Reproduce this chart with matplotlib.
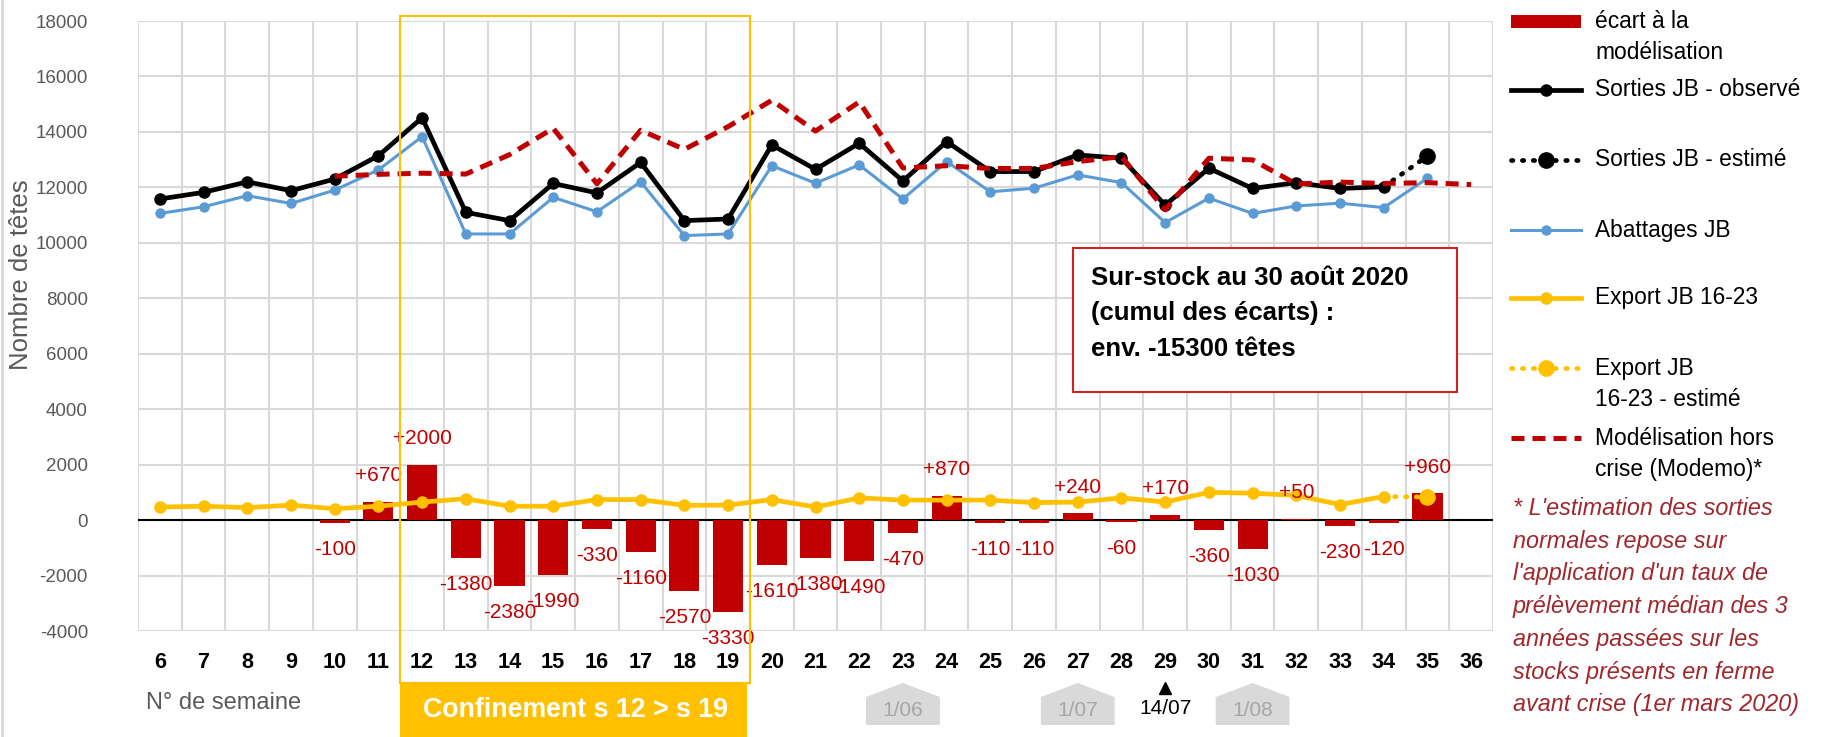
import numpy as np
import matplotlib
matplotlib.use('Agg')
import matplotlib.pyplot as plt
from matplotlib import font_manager as fm
from matplotlib.patches import Rectangle, Polygon
from matplotlib.lines import Line2D
from matplotlib.transforms import blended_transform_factory

W, H = 1828, 737
plt.rcParams['axes.unicode_minus'] = False

# fonts: narrow font when available, else plain Liberation Sans
names = {f.name for f in fm.fontManager.ttflist}
if 'Liberation Sans Narrow' in names:
    NARROW, k = 'Liberation Sans Narrow', 1.0
else:
    NARROW, k = 'Liberation Sans', 0.82
SANS = 'Liberation Sans'

# data
weeks = list(range(6, 37))

ecart_weeks = list(range(10, 36))
ecart = [-100, 670, 2000, -1380, -2380, -1990, -330, -1160, -2570, -3330,
         -1610, -1380, -1490, -470, 870, -110, -110, 240, -60, 170,
         -360, -1030, 50, -230, -120, 960]

sorties_weeks = list(range(6, 35))
sorties_obs = [11580, 11820, 12200, 11880, 12300, 13140, 14510, 11100, 10800, 12140,
               11800, 12900, 10800, 10860, 13530, 12650, 13590, 12230, 13650, 12570,
               12570, 13170, 13050, 11360, 12690, 11960, 12170, 11960, 12020]
sorties_est_weeks = [34, 35]
sorties_est = [12020, 13130]

abattages_weeks = list(range(6, 36))
abattages = [11060, 11300, 11700, 11420, 11900, 12630, 13830, 10320, 10320, 11640,
             11120, 12200, 10260, 10320, 12780, 12150, 12810, 11580, 12930, 11840,
             11970, 12450, 12170, 10730, 11610, 11060, 11330, 11430, 11270, 12330]

export_weeks = list(range(6, 35))
export = [470, 500, 450, 540, 410, 500, 650, 770, 500, 500,
          740, 740, 530, 540, 740, 470, 800, 720, 720, 720,
          630, 650, 800, 650, 1000, 970, 890, 560, 850]
export_est_weeks = [34, 35]
export_est = [850, 830]

modemo_weeks = list(range(10, 37))
modemo = [12400, 12470, 12510, 12480, 13180, 14130, 12130, 14060, 13370, 14190,
          15140, 14030, 15080, 12700, 12780, 12680, 12680, 12930, 13110, 11190,
          13050, 12990, 12120, 12190, 12140, 12170, 12100]

confinement = (12, 19)
milestone_weeks = [23, 27, 31]
milestone_labels = ['1/06', '1/07', '1/08']
event_week, event_label = 29, '14/07'

RED = '#C00000'
BLUE = '#5B9BD5'
ORANGE = '#FFC000'
GREY = '#595959'
DOTS = (0, (0.3, 2.0))
DASH = (0, (2.6, 1.6))


def px(x, y):
    return x / W, 1 - y / H


fig = plt.figure(figsize=(W / 100, H / 100), dpi=100)
ax = fig.add_axes([138 / W, 1 - 631 / H, (1493 - 138) / W, (631 - 21) / H])
ax.set_xlim(5.5, 36.5)
ax.set_ylim(-4000, 18000)
for s in ax.spines.values():
    s.set_visible(False)
ax.set_yticks(range(-4000, 18001, 2000))
ax.set_xticks(weeks)
ax.set_xticks(np.arange(5.5, 37, 1), minor=True)
ax.grid(which='minor', axis='x', color='#D9D9D9', lw=1.5)
ax.grid(which='major', axis='y', color='#D9D9D9', lw=1.5)
ax.set_axisbelow(True)
ax.tick_params(which='both', length=0)
ax.tick_params(axis='y', pad=36, labelcolor=GREY)
ax.tick_params(axis='x', pad=15)
for t in ax.get_yticklabels():
    t.set_fontfamily(NARROW)
    t.set_fontsize(16.5 * k)
for t in ax.get_xticklabels():
    t.set_fontfamily(NARROW)
    t.set_fontsize(19 * k)
    t.set_fontweight('bold')
ax.axhline(0, color='black', lw=1.5, zorder=2)

# bars + labels
ax.bar(ecart_weeks, ecart, width=0.69, color=RED, zorder=2)
for w, v in zip(ecart_weeks, ecart):
    lab = f'+{v}' if v > 0 else f'{v}'
    ax.annotate(lab, (w, v), xytext=(0, 19 if v > 0 else -19), textcoords='offset points',
                ha='center', va='center', color=RED, fontsize=15, family=SANS, zorder=7)

# lines
ax.plot(abattages_weeks, abattages, color=BLUE, lw=2.2, marker='o', ms=6.5, zorder=3)
ax.plot(sorties_weeks, sorties_obs, color='black', lw=3.4, marker='o', ms=8, zorder=4)
ax.plot(sorties_est_weeks, sorties_est, color='black', lw=3.4, ls=DOTS,
        dash_capstyle='round', marker='o', ms=11, markevery=[1], zorder=4)
ax.plot(modemo_weeks, modemo, color=RED, lw=3.6, ls=DASH, zorder=5)
ax.plot(export_weeks, export, color=ORANGE, lw=3.4, marker='o', ms=8, zorder=6)
ax.plot(export_est_weeks, export_est, color=ORANGE, lw=3.4, ls=DOTS,
        dash_capstyle='round', marker='o', ms=11, markevery=[1], zorder=6)

# confinement frame and label
bt = blended_transform_factory(ax.transData, fig.transFigure)
c0, c1 = confinement[0] - 0.5, confinement[1] + 0.5
ax.add_patch(Rectangle((c0, 1 - 683 / H), c1 - c0, (683 - 15.7) / H, transform=bt,
                       fill=False, ec=ORANGE, lw=1.5, clip_on=False, zorder=8))
ax.add_patch(Rectangle((c0, 0), c1 - c0 - 0.07, (737 - 682) / H, transform=bt,
                       fc=ORANGE, ec='none', clip_on=False, zorder=8))
ax.text((c0 + c1) / 2, 1 - 710 / H, 'Confinement s 12 > s 19', transform=bt,
        ha='center', va='center', color='white', fontsize=19.3, fontweight='bold',
        family=SANS, zorder=9)

# month markers
hw = 0.845
for w, lab in zip(milestone_weeks, milestone_labels):
    yb, ys, ya = 1 - 725 / H, 1 - 697 / H, 1 - 683 / H
    ax.add_patch(Polygon([(w - hw, yb), (w - hw, ys), (w, ya), (w + hw, ys), (w + hw, yb)],
                         closed=True, transform=bt, fc='#D9D9D9', ec='none', clip_on=False))
    ax.text(w, 1 - 711 / H, lab, transform=bt, ha='center', va='center', color='#A6A6A6',
            fontsize=15, family=NARROW)
ax.plot([event_week], [1 - 688 / H], transform=bt, marker='^', ms=9, color='black',
        ls='none', clip_on=False)
ax.text(event_week, 1 - 709 / H, event_label, transform=bt, ha='center', va='center',
        color='black', fontsize=15, family=NARROW)

# axis texts
fig.text(*px(21, 275), 'Nombre de têtes', rotation=90, ha='center', va='center',
         color=GREY, fontsize=18.5, family=SANS)
fig.text(*px(146, 703), 'N° de semaine', ha='left', va='center', color=GREY,
         fontsize=17, family=NARROW)

# summary box
fig.patches.append(Rectangle(px(1073, 392), 384 / W, 144 / H, transform=fig.transFigure,
                             fc='white', ec='#D42020', lw=1.5, zorder=10))
fig.text(*px(1091, 266), 'Sur-stock au 30 août 2020\n(cumul des écarts) :\nenv. -15300 têtes',
         ha='left', va='top', fontsize=18.5, fontweight='bold', family=SANS,
         linespacing=1.6, zorder=11)

# legend (drawn by hand to match spacing)
LX0, LX1, TX = 1511, 1581, 1595
lfs = 20 * k


def leg_line(y, **kw):
    fig.add_artist(Line2D([LX0 / W, LX1 / W], [1 - y / H] * 2, transform=fig.transFigure, **kw))


def leg_marker(y, color, ms):
    fig.add_artist(Line2D([(LX0 + LX1) / 2 / W], [1 - y / H], transform=fig.transFigure,
                          marker='o', color=color, ms=ms, ls='none'))


def leg_text(y, s):
    fig.text(TX / W, 1 - y / H, s, ha='left', va='center', fontsize=lfs, family=NARROW,
             color='black', linespacing=1.4)


fig.patches.append(Rectangle(px(LX0, 28), (LX1 - LX0) / W, 13 / H,
                             transform=fig.transFigure, fc=RED, ec='none'))
leg_text(37, 'écart à la\nmodélisation')
leg_line(90, color='black', lw=3.4)
leg_marker(90, 'black', 8)
leg_text(90, 'Sorties JB - observé')
leg_line(160, color='black', lw=3.4, ls=DOTS, dash_capstyle='round')
leg_marker(160, 'black', 11)
leg_text(160, 'Sorties JB - estimé')
leg_line(230, color=BLUE, lw=2.2)
leg_marker(230, BLUE, 6.5)
leg_text(230, 'Abattages JB')
leg_line(298, color=ORANGE, lw=3.4)
leg_marker(298, ORANGE, 8)
leg_text(298, 'Export JB 16-23')
leg_line(368, color=ORANGE, lw=3.4, ls=DOTS, dash_capstyle='round')
leg_marker(368, ORANGE, 11)
leg_text(384, 'Export JB\n16-23 - estimé')
leg_line(438, color=RED, lw=3.6, ls=DASH)
leg_text(454, 'Modélisation hors\ncrise (Modemo)*')

fig.text(1513 / W, 1 - 497 / H,
         "* L'estimation des sorties\nnormales repose sur\nl'application d'un taux de\n"
         "prélèvement médian des 3\nannées passées sur les\nstocks présents en ferme\n"
         "avant crise (1er mars 2020)",
         ha='left', va='top', fontsize=20.5 * k, family=NARROW, style='italic',
         color='#A0282D', linespacing=1.54)

# thin left border of the picture
fig.add_artist(Line2D([1.5 / W] * 2, [0, 1], transform=fig.transFigure, color='#D9D9D9', lw=2))

fig.savefig('out.png', dpi=100)
